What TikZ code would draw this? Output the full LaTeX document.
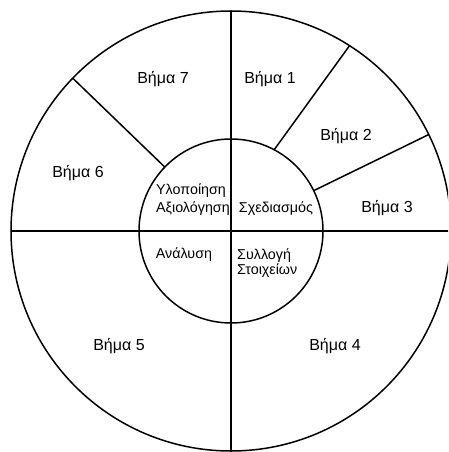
\documentclass[tikz,border=0pt]{standalone}
\usepackage{fontspec}
\setmainfont{Liberation Sans}
\usetikzlibrary{calc}

\begin{document}
\begin{tikzpicture}[
  x=1pt, y=1pt,
  ring/.style={line width=1.5pt},
  steplabel/.style={font=\fontsize{16}{19}\selectfont, inner sep=0pt},
  phaselabel/.style={font=\fontsize{14.3}{18}\selectfont, align=left, inner sep=0pt}
]
\useasboundingbox (-231,-221) rectangle (217,231);
\clip (-231,-221) rectangle (217,231);
\coordinate (centre) at (0,0);
% rings
\draw[ring] (centre) circle (220);
\draw[ring] (centre) circle (92);
% quadrant lines
\draw[ring] (90:220) -- (270:240);
\draw[ring] (180:220) -- (0:240);
% step borders
\draw[ring] (62:92) -- (57.4:220);
\draw[ring] (26:92) -- (26:220);
\draw[ring] (136:92) -- (136:220);
% outer steps
\node[steplabel] (step1) at (39,152) {Βήμα 1};
\node[steplabel] (step2) at (115,95) {Βήμα 2};
\node[steplabel] (step3) at (156,23) {Βήμα 3};
\node[steplabel] (step4) at (104,-115) {Βήμα 4};
\node[steplabel] (step5) at (-112,-115) {Βήμα 5};
\node[steplabel] (step6) at (-153,58) {Βήμα 6};
\node[steplabel] (step7) at (-68,152) {Βήμα 7};
% inner phases
\node[phaselabel, anchor=west] (implement) at (-75,31) {Υλοποίηση\\Αξιολόγηση};
\node[phaselabel] (design) at (45,22) {Σχεδιασμός};
\node[phaselabel] (analysis) at (-47,-24) {Ανάλυση};
\node[phaselabel, anchor=west, font=\fontsize{14.3}{15.7}\selectfont] (collect) at (6,-32) {Συλλογή\\Στοιχείων};
\end{tikzpicture}
\end{document}
